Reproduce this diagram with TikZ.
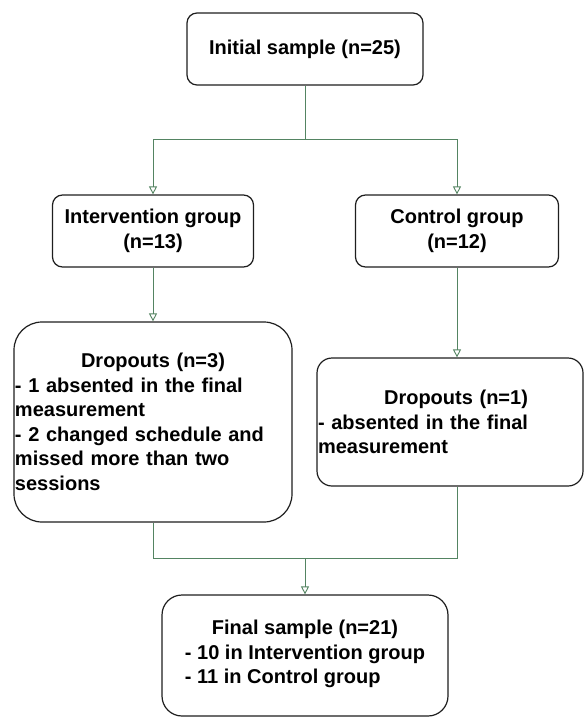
\documentclass[tikz,border=0pt]{standalone}
\usepackage{fontspec}
\setmainfont{Liberation Sans}
\usetikzlibrary{arrows.meta}
\definecolor{linkgreen}{RGB}{84,132,98}
\definecolor{boxline}{RGB}{30,30,30}

\begin{document}
\begin{tikzpicture}[x=1pt, y=-1pt,
    box/.style={draw=boxline, line width=1.2pt, fill=white, inner sep=1pt,
      font=\fontsize{20}{24.5}\selectfont\bfseries, align=center},
    link/.style={draw=linkgreen, line width=0.9pt},
    arrow/.style={link, -{Triangle[open, width=8pt, length=8pt]}}]
  \useasboundingbox (0,0) rectangle (584,718);

  \node[box, rounded corners=10pt, minimum width=236pt, minimum height=72pt] (init) at (305,49) {Initial sample (n=25)};
  \node[box, rounded corners=10pt, minimum width=201pt, minimum height=72pt] (intv) at (153,231) {Intervention group\\(n=13)};
  \node[box, rounded corners=10pt, minimum width=203pt, minimum height=72pt] (ctrl) at (457,231) {Control group\\(n=12)};
  \node[box, rounded corners=28pt, minimum width=278pt, minimum height=200pt, text width=276pt, align=left] (drop1) at (153,422)
    {\makebox[\linewidth]{Dropouts (n=3)}\\- 1 absented in the final\\measurement\\- 2 changed schedule and\\missed more than two\\sessions};
  \node[box, rounded corners=15pt, minimum width=266pt, minimum height=128pt, text width=264pt, align=left] (drop2) at (450,422)
    {\makebox[\linewidth]{\hspace{12pt}Dropouts (n=1)}\\- absented in the final\\measurement};
  \node[box, rounded corners=20pt, minimum width=286pt, minimum height=121pt] (final) at (305,655.5)
    {Final sample (n=21)\\\begin{tabular}[t]{@{}l@{}}- 10 in Intervention group\\- 11 in Control group\end{tabular}};

  \coordinate (split) at (305,139);
  \coordinate (merge) at (305,558);

  \draw[link] (init) -- (split);
  \draw[arrow] (split) -| (intv);
  \draw[arrow] (split) -| (ctrl);
  \draw[arrow] (intv) -- (drop1);
  \draw[arrow] (ctrl.south) -- (ctrl.south |- drop2.north);
  \draw[link] (drop1) |- (merge);
  \draw[link] (ctrl.south |- drop2.south) |- (merge);
  \draw[arrow] (merge) -- (final);
\end{tikzpicture}
\end{document}
